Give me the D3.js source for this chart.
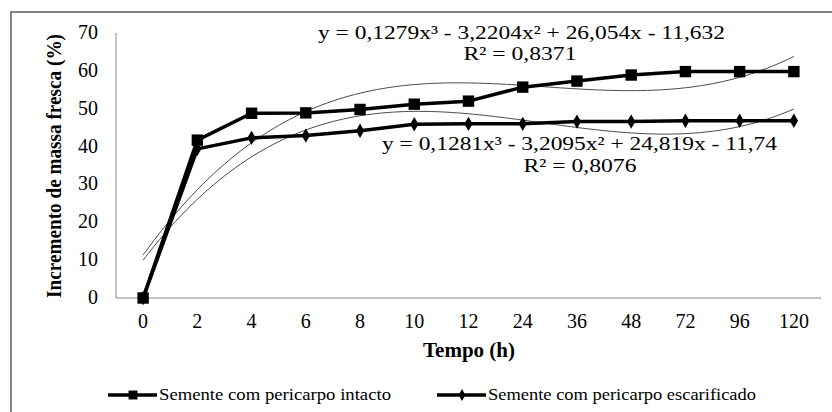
<!DOCTYPE html>
<html>
<head>
<meta charset="utf-8">
<script src="https://cdn.jsdelivr.net/npm/d3@7"></script>
<style>
    body { margin: 0; background: #fff; }
</style>
</head>
<body>
<div id="chart"></div>
<script>
// categories on the x axis (hours)
const tempos = ["0", "2", "4", "6", "8", "10", "12", "24", "36", "48", "72", "96", "120"];
// values
const intacto = [0, 41.7, 48.8, 48.9, 49.8, 51.2, 52.0, 55.7, 57.3, 58.9, 59.8, 59.8, 59.8];
const escarificado = [0, 39.4, 42.3, 42.9, 44.2, 45.9, 46.0, 46.0, 46.6, 46.6, 46.8, 46.8, 46.8];
// cubic trendline coefficients (a x^3 + b x^2 + c x + d), x = category index 1..13
const coefIntacto = [0.1279, -3.2204, 26.054, -11.632];
const coefEscarificado = [0.1281, -3.2095, 24.819, -11.74];
const yTicks = [0, 10, 20, 30, 40, 50, 60, 70];
const seriesNames = ["Semente com pericarpo intacto", "Semente com pericarpo escarificado"];

const serif = "'Liberation Serif'";

class TrendVis {
    constructor(parentElement) {
        this.parentElement = parentElement;
        this.initVis();
    }

    initVis() {
        let vis = this;
        vis.width = 832;
        vis.height = 412;

        vis.svg = d3.select("#" + vis.parentElement).append("svg")
            .attr("width", vis.width)
            .attr("height", vis.height)
            .attr("font-family", serif);

        // outer frame (right and bottom edges fall outside the picture)
        vis.svg.append("rect")
            .attr("x", 11).attr("y", 12)
            .attr("width", 860).attr("height", 430)
            .attr("fill", "none")
            .attr("stroke", "#858585")
            .attr("stroke-width", 2);

        vis.x = d3.scaleBand().domain(tempos).range([116, 821]).padding(0);
        vis.y = d3.scaleLinear().domain([0, 70]).range([298, 33]);
        let cx = d => vis.x(d) + vis.x.bandwidth() / 2;
        // index scale for the trendlines
        vis.xi = d3.scaleLinear().domain([1, tempos.length]).range([cx(tempos[0]), cx(tempos[tempos.length - 1])]);

        // axes (no ticks, just lines + labels)
        vis.svg.append("line")
            .attr("x1", 116).attr("x2", 116)
            .attr("y1", vis.y(70)).attr("y2", vis.y(0))
            .attr("stroke", "#868686");
        vis.svg.append("line")
            .attr("x1", 116).attr("x2", 821)
            .attr("y1", vis.y(0)).attr("y2", vis.y(0))
            .attr("stroke", "#868686");

        vis.svg.selectAll(".ylab").data(yTicks).enter().append("text")
            .attr("class", "ylab")
            .attr("x", 98)
            .attr("y", d => vis.y(d) + 6)
            .attr("text-anchor", "end")
            .attr("font-family", serif)
            .attr("font-size", 20)
            .text(d => d);

        vis.svg.selectAll(".xlab").data(tempos).enter().append("text")
            .attr("class", "xlab")
            .attr("x", d => cx(d))
            .attr("y", 328)
            .attr("text-anchor", "middle")
            .attr("font-family", serif)
            .attr("font-size", 20)
            .text(d => d);

        vis.svg.append("text")
            .attr("x", 469).attr("y", 357)
            .attr("text-anchor", "middle")
            .attr("font-family", serif)
            .attr("font-size", 21)
            .attr("font-weight", "bold")
            .text("Tempo (h)");

        vis.svg.append("text")
            .attr("transform", "translate(61,166) rotate(-90)")
            .attr("text-anchor", "middle")
            .attr("textLength", 264)
            .attr("lengthAdjust", "spacingAndGlyphs")
            .attr("font-family", serif)
            .attr("font-size", 20)
            .attr("font-weight", "bold")
            .text("Incremento de massa fresca (%)");

        // trendlines
        let steps = d3.range(1, tempos.length + 0.001, 0.1);
        let poly = (c, t) => c[0] * t * t * t + c[1] * t * t + c[2] * t + c[3];
        let trend = d3.line().x(t => vis.xi(t)).curve(d3.curveBasis);
        [coefIntacto, coefEscarificado].forEach(c => {
            vis.svg.append("path")
                .attr("d", trend.y(t => vis.y(poly(c, t)))(steps))
                .attr("fill", "none")
                .attr("stroke", "#4a4a4a")
                .attr("stroke-width", 1);
        });

        // data lines
        let line = d3.line().x((d, i) => cx(tempos[i])).y(d => vis.y(d));
        [intacto, escarificado].forEach(s => {
            vis.svg.append("path")
                .attr("d", line(s))
                .attr("fill", "none")
                .attr("stroke", "#000")
                .attr("stroke-width", 3.5)
                .attr("stroke-linejoin", "round");
        });

        let square = d3.symbol().type(d3.symbolSquare).size(130);
        let diamond = d3.symbol().type(d3.symbolDiamond).size(60);

        vis.svg.selectAll(".sq").data(intacto).enter().append("path")
            .attr("class", "sq")
            .attr("d", square)
            .attr("transform", (d, i) => `translate(${cx(tempos[i])},${vis.y(d)})`)
            .attr("fill", "#000");

        vis.svg.selectAll(".dm").data(escarificado).enter().append("path")
            .attr("class", "dm")
            .attr("d", diamond)
            .attr("transform", (d, i) => `translate(${cx(tempos[i])},${vis.y(d)})`)
            .attr("fill", "#000");

        // equations
        let eq = (x, y, txt, len, anchor) => {
            vis.svg.append("text")
                .attr("x", x).attr("y", y)
                .attr("text-anchor", anchor)
                .attr("font-family", serif)
                .attr("font-size", 19)
                .attr("textLength", len)
                .attr("lengthAdjust", "spacingAndGlyphs")
                .text(txt);
        };
        eq(318, 39, "y = 0,1279x³ - 3,2204x² + 26,054x - 11,632", 407, "start");
        eq(520, 60, "R² = 0,8371", 113, "middle");
        eq(382, 150, "y = 0,1281x³ - 3,2095x² + 24,819x - 11,74", 395, "start");
        eq(580, 172, "R² = 0,8076", 113, "middle");

        // legend
        let legend = [
            { x: 108, textLen: 232 },
            { x: 437, textLen: 268 }
        ];
        legend.forEach((l, i) => {
            let g = vis.svg.append("g").attr("transform", `translate(${l.x},395)`);
            g.append("line")
                .attr("x1", 0).attr("x2", 49)
                .attr("stroke", "#000").attr("stroke-width", 3.5);
            g.append("path")
                .attr("d", i === 0 ? d3.symbol().type(d3.symbolSquare).size(80)() : d3.symbol().type(d3.symbolDiamond).size(40)())
                .attr("transform", "translate(25,0)")
                .attr("fill", "#000");
            g.append("text")
                .attr("x", 51).attr("y", 5)
                .attr("textLength", l.textLen).attr("lengthAdjust", "spacingAndGlyphs")
                .attr("font-family", serif)
                .attr("font-size", 17)
                .text(seriesNames[i]);
        });
    }
}

new TrendVis("chart");
</script>
</body>
</html>
